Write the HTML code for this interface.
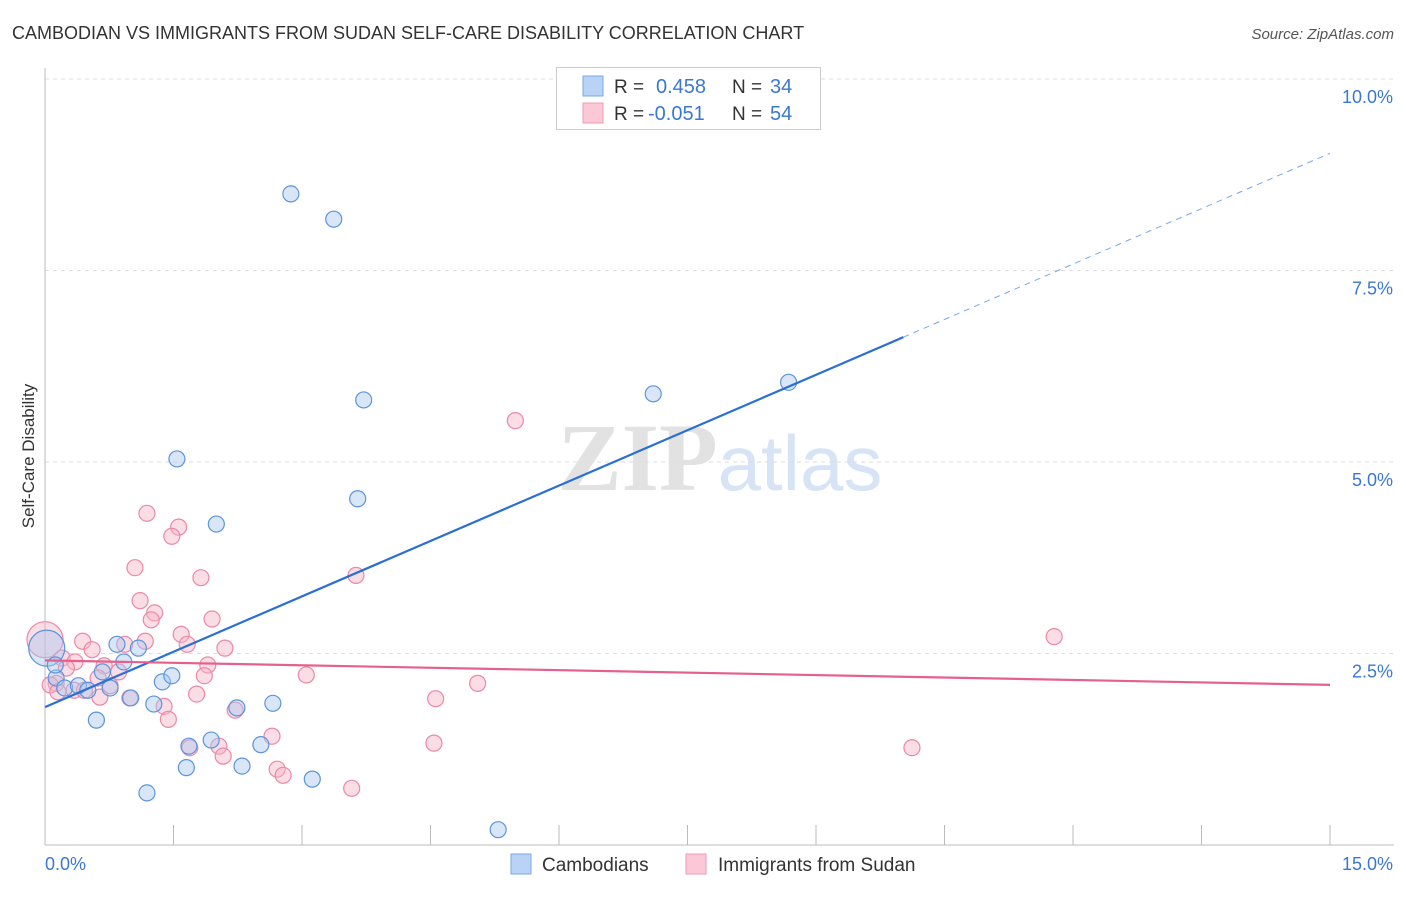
<!DOCTYPE html>
<html><head><meta charset="utf-8"><style>
body{margin:0;background:#fff;font-family:"Liberation Sans",sans-serif}
svg text{font-family:"Liberation Sans",sans-serif}
</style></head><body>
<svg id="chart" width="1406" height="892" xmlns="http://www.w3.org/2000/svg">
<text x="12" y="39" font-size="18" fill="#333">CAMBODIAN VS IMMIGRANTS FROM SUDAN SELF-CARE DISABILITY CORRELATION CHART</text>
<text x="1394" y="39" font-size="15" fill="#555" text-anchor="end" font-style="italic">Source: ZipAtlas.com</text>
<text x="720" y="490" font-size="96" text-anchor="middle"><tspan fill="#e2e2e2" font-family="Liberation Serif" font-weight="bold">ZIP</tspan><tspan fill="#d6e4f5" font-size="78">atlas</tspan></text>
<g id="grid"></g>
<g id="axes"></g>
<g id="pts"></g>
<g id="trends"></g>
<text transform="translate(34,456) rotate(-90)" font-size="17" fill="#333" text-anchor="middle">Self-Care Disability</text>
<g>
<rect x="556.5" y="67.5" width="264" height="62" fill="#fff" stroke="#ccc"/>
<rect x="583" y="76" width="20" height="20" fill="#b8d3f5" stroke="#7aaae6"/>
<rect x="583" y="103" width="20" height="20" fill="#fac8d6" stroke="#f09ab4"/>
<text x="614" y="93" font-size="19" fill="#333">R =</text><text x="656" y="93" font-size="20" fill="#3a78d4">0.458</text>
<text x="732" y="93" font-size="19" fill="#333">N =</text><text x="770" y="93" font-size="20" fill="#3a78d4">34</text>
<text x="614" y="120" font-size="19" fill="#333">R =</text><text x="648" y="120" font-size="20" fill="#3a78d4">-0.051</text>
<text x="732" y="120" font-size="19" fill="#333">N =</text><text x="770" y="120" font-size="20" fill="#3a78d4">54</text>
</g>
<g>
<rect x="511" y="854" width="20" height="20" fill="#b8d3f5" stroke="#7aaae6"/>
<text x="542" y="871" font-size="19" fill="#333">Cambodians</text>
<rect x="686" y="854" width="20" height="20" fill="#fac8d6" stroke="#f09ab4"/>
<text x="718" y="871" font-size="19" fill="#333">Immigrants from Sudan</text>
</g>
</svg>
<script>
const NS="http://www.w3.org/2000/svg";
const xTicks=[0,1.5,3,4.5,6,7.5,9,10.5,12,13.5,15];
const yTicks=[2.5,5,7.5,10];
const yTickLabels=["2.5%","5.0%","7.5%","10.0%"];
const xEndLabels=["0.0%","15.0%"];
const cambX=[0.02,2.87,3.37,3.72,7.10,8.68,1.54,3.65,2.00,0.84,1.09,0.92,0.13,0.23,0.39,0.67,0.50,0.76,1.00,1.37,1.48,1.27,2.24,2.66,0.60,1.68,1.94,2.52,1.65,2.30,3.12,1.19,5.29,0.12];
const cambY=[2.57,8.50,8.17,5.81,5.89,6.04,5.04,4.52,4.19,2.62,2.57,2.39,2.18,2.05,2.08,2.26,2.02,2.05,1.92,2.13,2.21,1.84,1.79,1.85,1.63,1.29,1.37,1.31,1.01,1.03,0.86,0.68,0.20,2.35];
const sudX=[0.0,1.19,1.56,1.48,1.05,1.82,1.11,1.28,1.24,1.95,1.59,0.44,1.17,0.93,1.66,2.10,0.55,0.20,0.35,0.69,0.86,1.90,0.25,3.05,0.62,0.13,1.86,5.05,11.78,5.49,3.63,0.34,0.46,0.76,1.77,0.64,4.56,0.99,1.39,2.22,1.44,2.65,1.69,2.03,2.08,4.54,2.71,2.78,3.58,10.12,0.06,0.15];
const sudY=[2.68,4.33,4.15,4.03,3.62,3.49,3.19,3.03,2.94,2.95,2.75,2.66,2.66,2.62,2.62,2.57,2.55,2.44,2.39,2.34,2.26,2.35,2.31,2.22,2.18,2.11,2.21,2.11,2.72,5.54,3.52,2.02,2.02,2.08,1.97,1.93,1.91,1.92,1.81,1.76,1.64,1.42,1.27,1.29,1.16,1.33,0.99,0.91,0.74,1.27,2.09,2.00];
const cambTrend=[1.80,0.482];
const sudTrend=[2.41,-0.0213];
const X=v=>45+v*(1285/15);
const Y=v=>845-v*76.6;
function mk(t,a,p){const e=document.createElementNS(NS,t);for(const k in a)e.setAttribute(k,a[k]);p.appendChild(e);return e;}
const grid=document.getElementById('grid'),axes=document.getElementById('axes'),pts=document.getElementById('pts'),tr=document.getElementById('trends');
yTicks.forEach((v,i)=>{
 const l=mk('line',{x1:45,x2:1394,y1:Y(v),y2:Y(v),stroke:'#ddd','stroke-dasharray':'4,4'},grid);
 
 
 const t=mk('text',{x:1393,y:Y(v)+24,'font-size':18,fill:'#3a78d4','text-anchor':'end'},axes);
 t.textContent=yTickLabels[i];
 
 
});
const ax=mk('line',{x1:45,x2:45,y1:68,y2:845,stroke:'#bbb'},axes);


const bx=mk('line',{x1:45,x2:1394,y1:845,y2:845,stroke:'#bbb'},axes);


xTicks.forEach(v=>{
 const t=mk('line',{x1:X(v),x2:X(v),y1:825,y2:845,stroke:'#bbb'},axes);
 
 
});
const xl0=mk('text',{x:45,y:870,'font-size':18,fill:'#3a78d4'},axes);xl0.textContent=xEndLabels[0];


const xl1=mk('text',{x:1393,y:870,'font-size':18,fill:'#3a78d4','text-anchor':'end'},axes);xl1.textContent=xEndLabels[1];


function series(xs,ys,fill,stroke,name){
 xs.forEach((x,i)=>{
  const c=mk('circle',{cx:X(x),cy:Y(ys[i]),r:i===0?18:8,fill:fill,'fill-opacity':0.45,stroke:stroke,'stroke-width':1.2},pts);
  
  
 });
}
series(sudX,sudY,'#f7b4c8','#ec88a8','point-sudan');
series(cambX,cambY,'#a9c8f0','#5b95dd','point-cambodian');
const bl=mk('line',{x1:X(0),y1:Y(cambTrend[0]),x2:X(10.02),y2:Y(cambTrend[0]+cambTrend[1]*10.02),stroke:'#2a6fd6','stroke-width':2.2},tr);


const bd=mk('line',{x1:X(10.02),y1:Y(cambTrend[0]+cambTrend[1]*10.02),x2:X(15),y2:Y(cambTrend[0]+cambTrend[1]*15),stroke:'#7aa7e6','stroke-width':1,'stroke-dasharray':'6,5'},tr);


const pl=mk('line',{x1:X(0),y1:Y(sudTrend[0]),x2:X(15),y2:Y(sudTrend[0]+sudTrend[1]*15),stroke:'#e5608a','stroke-width':2.2},tr);


</script>
</body></html>
